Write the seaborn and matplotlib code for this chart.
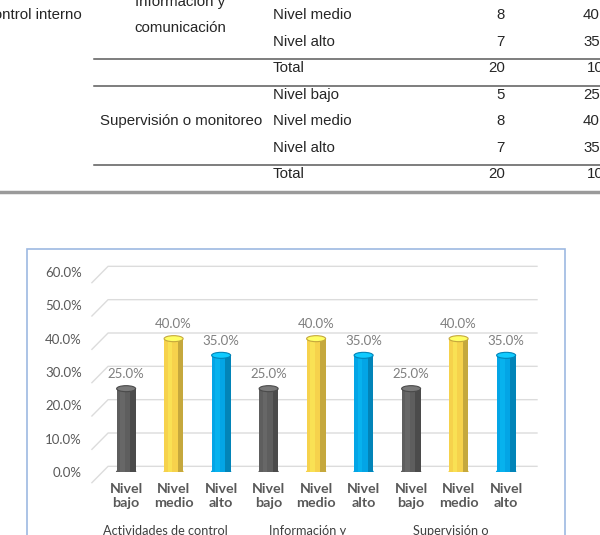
import numpy as np
import pandas as pd
import seaborn as sns
import matplotlib.pyplot as plt
from matplotlib.patches import Rectangle, Ellipse
from matplotlib.lines import Line2D
from matplotlib.transforms import ScaledTranslation, blended_transform_factory

# datos del grafico
grupos = ["Actividades de control", "Información y", "Supervisión o"]
niveles = ["Nivel bajo", "Nivel medio", "Nivel alto"]
porcentajes = [25.0, 40.0, 35.0, 25.0, 40.0, 35.0, 25.0, 40.0, 35.0]
colores = {"Nivel bajo": "#5e5e5e", "Nivel medio": "#f6d24c", "Nivel alto": "#03a5e6"}
y_ticks = [0, 10, 20, 30, 40, 50, 60]

# datos de la tabla (parte visible)
tabla_dim = ["Control interno", "Información y\ncomunicación", "Supervisión o monitoreo"]
tabla_niveles = ["Nivel medio", "Nivel alto", "Total", "Nivel bajo", "Nivel medio", "Nivel alto", "Total"]
tabla_frec = [8, 7, 20, 5, 8, 7, 20]
tabla_pct = ["40.0", "35.0", "100.0", "25.0", "40.0", "35.0", "100.0"]

df = pd.DataFrame({
    "grupo": np.repeat(grupos, 3),
    "nivel": niveles * 3,
    "porcentaje": porcentajes,
})
df["pos"] = df["grupo"] + "|" + df["nivel"]

W, H = 600, 535
fig = plt.figure(figsize=(W / 100, H / 100), dpi=100)
fig.patch.set_facecolor("white")


def fx(px):
    return px / W


def fy(py):
    return 1 - py / H


# ---- tabla (recortada) ----
tfont = dict(family="Liberation Sans", fontsize=10.8, color="#262626", va="center")
filas_y = [15, 42, 68, 95, 121, 148, 174]
fig.text(fx(82), fy(15), tabla_dim[0], ha="right", **tfont)
fig.text(fx(180), fy(2), "Información y", ha="center", **tfont)
fig.text(fx(180), fy(28), "comunicación", ha="center", **tfont)
fig.text(fx(181), fy(121), tabla_dim[2], ha="center", **tfont)
for yy, niv, fr, pc in zip(filas_y, tabla_niveles, tabla_frec, tabla_pct):
    fig.text(fx(273), fy(yy), niv, ha="left", **tfont)
    fig.text(fx(505), fy(yy), str(fr), ha="right", **tfont)
    fig.text(fx(583 if len(pc) == 4 else 587), fy(yy), pc, ha="left", **tfont)
for yy in [59, 86, 165]:
    fig.add_artist(Line2D([fx(94), 1], [fy(yy), fy(yy)], color="#5a5a5a", lw=1.1))
fig.add_artist(Line2D([0, 1], [fy(192), fy(192)], color="#9a9a9a", lw=2.5))

# ---- marco del grafico ----
fig.add_artist(Rectangle((fx(27), fy(560)), fx(565) - fx(27), fy(249) - fy(560),
                         transform=fig.transFigure, fill=False,
                         edgecolor="#9db9e2", lw=1.2))

# ---- grafico ----
ax = fig.add_axes([fx(100), fy(472), fx(537) - fx(100), fy(272) - fy(472)])
ax.set_facecolor("none")

sns.barplot(data=df, x="pos", y="porcentaje", hue="nivel", palette=colores,
            order=list(df["pos"]), hue_order=niveles, dodge=False,
            width=0.4, legend=False, saturation=1, ax=ax, zorder=3,
            edgecolor="none")

ax.set_xlim(-0.55, 8.65)
ax.set_ylim(0, 60)

# lineas de cuadricula con perspectiva
for v in y_ticks:
    ax.plot([-0.72, -0.38, 8.65], [v - 3.2, v + 1.7, v + 1.7],
            color="#dcdcdc", lw=1, clip_on=False, zorder=0)

# aspecto de cilindro
for bar in ax.patches:
    h = bar.get_height()
    if np.isnan(h) or h == 0:
        continue
    x0, w = bar.get_x(), bar.get_width()
    c = bar.get_facecolor()
    dark = tuple(np.clip(np.array(c[:3]) * 0.8, 0, 1))
    light = tuple(np.clip(np.array(c[:3]) * 1.15 + 0.05, 0, 1))
    ax.add_patch(Ellipse((x0 + w / 2, 0), w, 1.6, color=c, zorder=2))
    ax.add_patch(Rectangle((x0 + w * 0.72, 0), w * 0.28, h, color=dark, zorder=3.5, lw=0))
    ax.add_patch(Rectangle((x0 + w * 0.2, 0), w * 0.22, h, color=light, alpha=0.35, zorder=3.5, lw=0))
    ax.add_patch(Ellipse((x0 + w / 2, h), w, 1.8, color=light, ec=dark, lw=0.8, zorder=4))

for cont in ax.containers:
    ax.bar_label(cont, fmt="%.1f%%", padding=6, color="#7f7f7f",
                 fontsize=9.5, family="Lato")

ax.set_yticks(y_ticks)
ax.set_yticklabels([f"{v:.1f}%" for v in y_ticks], family="Lato",
                   fontsize=9.5, color="#595959")
for lab in ax.get_yticklabels():
    lab.set_transform(lab.get_transform() + ScaledTranslation(0, -6 / 100, fig.dpi_scale_trans))
ax.tick_params(axis="y", length=0, pad=13)

ax.set_xticks(range(len(df)))
ax.set_xticklabels([n.replace(" ", "\n") for n in df["nivel"]], family="Lato",
                   fontsize=10.3, color="#595959", fontweight="bold", linespacing=1.2)
ax.tick_params(axis="x", length=0, pad=8)
ax.set_xlabel("")
ax.set_ylabel("")
for s in ax.spines.values():
    s.set_visible(False)

trans = blended_transform_factory(ax.transData, fig.transFigure)
for i, g in enumerate(grupos):
    ax.text(3 * i + 1 - 0.17, fy(525), g, transform=trans, ha="center", va="top",
            family="Lato", fontsize=9.2, color="#404040", clip_on=False)

fig.savefig("out.png", dpi=100)
